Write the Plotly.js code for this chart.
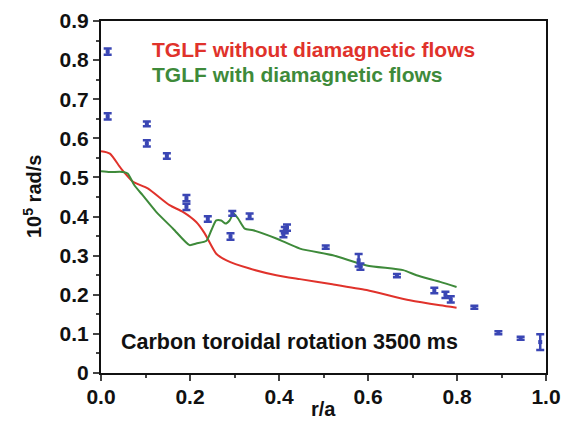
<!DOCTYPE html>
<html><head><meta charset="utf-8">
<script src="https://cdn.plot.ly/plotly-3.0.1.min.js"></script>
<style>body{margin:0;background:#fff}#c{width:571px;height:423px}</style>
</head><body><div id="c"></div>
<script>
// Measured carbon toroidal rotation (10^5 rad/s)
var expX = [0.015, 0.015, 0.103, 0.103, 0.148, 0.192, 0.192, 0.240, 0.291, 0.295, 0.334, 0.410, 0.413, 0.418, 0.505, 0.579, 0.583, 0.665, 0.749, 0.774, 0.786, 0.839, 0.893, 0.943, 0.987];
var expY = [0.822, 0.656, 0.637, 0.587, 0.555, 0.447, 0.425, 0.394, 0.349, 0.408, 0.401, 0.355, 0.365, 0.372, 0.322, 0.288, 0.272, 0.249, 0.211, 0.200, 0.188, 0.168, 0.103, 0.089, 0.079];
var expErr = [0.008, 0.008, 0.006, 0.008, 0.007, 0.008, 0.008, 0.007, 0.008, 0.006, 0.007, 0.008, 0.008, 0.008, 0.004, 0.016, 0.008, 0.004, 0.007, 0.008, 0.008, 0.004, 0.004, 0.004, 0.02];

// TGLF without diamagnetic flows (red)
var redX = [0.0, 0.02, 0.045, 0.072, 0.105, 0.154, 0.184, 0.214, 0.233, 0.259, 0.282, 0.334, 0.394, 0.447, 0.520, 0.597, 0.694, 0.762, 0.799];
var redY = [0.567, 0.561, 0.523, 0.489, 0.472, 0.429, 0.412, 0.386, 0.357, 0.305, 0.288, 0.267, 0.250, 0.240, 0.227, 0.212, 0.186, 0.173, 0.167];

// TGLF with diamagnetic flows (green)
var grnX = [0.0, 0.02, 0.049, 0.06, 0.075, 0.094, 0.124, 0.162, 0.199, 0.214, 0.237, 0.248, 0.259, 0.270, 0.280, 0.289, 0.298, 0.308, 0.323, 0.342, 0.394, 0.447, 0.521, 0.597, 0.679, 0.709, 0.762, 0.799];
var grnY = [0.516, 0.514, 0.514, 0.51, 0.48, 0.454, 0.412, 0.369, 0.327, 0.331, 0.338, 0.365, 0.390, 0.390, 0.382, 0.390, 0.408, 0.395, 0.369, 0.365, 0.344, 0.318, 0.301, 0.275, 0.263, 0.250, 0.233, 0.220];

var xTicks = [0.0, 0.2, 0.4, 0.6, 0.8, 1.0];
var xTickText = ['0.0', '0.2', '0.4', '0.6', '0.8', '1.0'];
var yTicks = [0, 0.1, 0.2, 0.3, 0.4, 0.5, 0.6, 0.7, 0.8, 0.9];
var yTickText = ['0', '0.1', '0.2', '0.3', '0.4', '0.5', '0.6', '0.7', '0.8', '0.9'];

var F = 'Liberation Sans, Arial, sans-serif';
var traces = [
  {x: redX, y: redY, mode: 'lines', line: {color: '#e0322b', width: 2, shape: 'spline', smoothing: 0.6}, hoverinfo: 'skip'},
  {x: grnX, y: grnY, mode: 'lines', line: {color: '#3e8a3a', width: 2, shape: 'spline', smoothing: 0.6}, hoverinfo: 'skip'},
  {x: expX, y: expY, mode: 'markers', marker: {symbol: 'square', size: 4, color: '#3a46b4'},
   error_y: {type: 'data', array: expErr, visible: true, color: '#3a46b4', thickness: 2.5, width: 4}}
];
var layout = {
  width: 571, height: 423, showlegend: false,
  paper_bgcolor: '#fff', plot_bgcolor: '#fff',
  margin: {l: 101, r: 25, t: 21, b: 50},
  font: {family: F, color: '#111'},
  xaxis: {range: [0, 1.0], tickvals: xTicks, ticktext: xTickText, ticks: 'outside', ticklen: 6, tickwidth: 2,
          showline: true, linewidth: 2, linecolor: '#111', mirror: true, showgrid: false, zeroline: false,
          ticklabelstandoff: -2,
          tickfont: {size: 21, family: F, weight: 'bold'},
          minor: {dtick: 0.1, ticks: 'outside', ticklen: 3, tickwidth: 2, showgrid: false}},
  yaxis: {range: [0, 0.9], tickvals: yTicks, ticktext: yTickText, ticks: 'outside', ticklen: 6, tickwidth: 2,
          showline: true, linewidth: 2, linecolor: '#111', mirror: true, showgrid: false, zeroline: false,
          tickfont: {size: 21, family: F, weight: 'bold'},
          minor: {dtick: 0.05, ticks: 'outside', ticklen: 3, tickwidth: 2, showgrid: false}},
  annotations: [
    {text: 'TGLF without diamagnetic flows', xref: 'x', yref: 'y', x: 0.11, y: 0.828, xanchor: 'left', yanchor: 'middle', showarrow: false,
     font: {size: 21, color: '#e0322b', family: F, weight: 'bold'}},
    {text: 'TGLF with diamagnetic flows', xref: 'x', yref: 'y', x: 0.11, y: 0.762, xanchor: 'left', yanchor: 'middle', showarrow: false,
     font: {size: 21, color: '#3e8a3a', family: F, weight: 'bold'}},
    {text: 'Carbon toroidal rotation 3500 ms', xref: 'x', yref: 'y', x: 0.04, y: 0.078, xanchor: 'left', yanchor: 'middle', showarrow: false,
     font: {size: 21.5, color: '#111', family: F, weight: 'bold'}},
    {text: 'r/a', xref: 'paper', yref: 'paper', x: 0.5, y: 0, yshift: -36, xanchor: 'center', yanchor: 'middle', showarrow: false,
     font: {size: 20, color: '#111', family: F, weight: 'bold'}},
    {text: '10<sup>5</sup> rad/s', xref: 'paper', yref: 'paper', x: 0, xshift: -69, y: 0.5, textangle: -90, xanchor: 'center', yanchor: 'middle', showarrow: false,
     font: {size: 20, color: '#111', family: F, weight: 'bold'}}
  ]
};
Plotly.newPlot('c', traces, layout, {staticPlot: true, displayModeBar: false});
</script></body></html>
